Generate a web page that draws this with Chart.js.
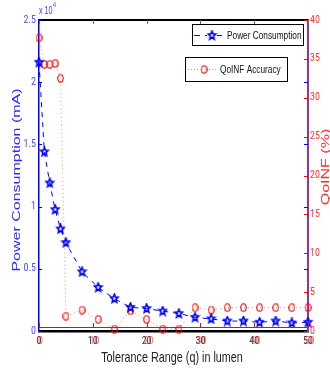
<!DOCTYPE html>
<html>
<head>
<meta charset="utf-8">
<script src="https://cdn.jsdelivr.net/npm/chart.js@4/dist/chart.umd.min.js"></script>
<style>
  body { margin: 0; background: #fff; }
  #wrap { width: 330px; height: 372px; }
</style>
</head>
<body>
<div id="wrap"><canvas id="chart-1" width="330" height="372"></canvas></div>
<script>
const tolerance = [0, 1, 2, 3, 4, 5, 8, 11, 14, 17, 20, 23, 26, 29, 32, 35, 38, 41, 44, 47, 50];
const power = [21600, 14400, 11900, 9760, 8200, 7100, 4760, 3500, 2600, 1900, 1800, 1600, 1400, 1100, 970, 800, 800, 700, 800, 650, 700];
const accuracy = [37.7, 34.3, 34.3, 34.4, 32.5, 1.9, 2.7, 1.5, 0.25, 2.6, 1.5, 0.25, 0.25, 3.0, 2.7, 3.0, 3.0, 3.0, 3.0, 3.0, 3.0];
const xTicks = [0, 10, 20, 30, 40, 50];

const TICKFONT = "'Roboto Condensed', 'Liberation Sans', sans-serif";
const FONT = "'Liberation Sans', Arial, sans-serif";
const SQUEEZE = 0.72; // the original figure is narrowed sideways

// markers drawn to small canvases
function makeStar(size, color) {
  const c = document.createElement("canvas");
  c.width = size; c.height = size;
  const g = c.getContext("2d");
  const cx = size / 2, cy = size / 2, R = size / 2 - 1, r = R * 0.45;
  g.beginPath();
  for (let i = 0; i < 10; i++) {
    const a = -Math.PI / 2 + i * Math.PI / 5;
    const rr = i % 2 ? r : R;
    g.lineTo(cx + rr * Math.cos(a) * 0.85, cy + rr * Math.sin(a));
  }
  g.closePath();
  g.strokeStyle = color;
  g.lineWidth = 1.6;
  g.stroke();
  return c;
}
function makeRing(w, h, color) {
  const c = document.createElement("canvas");
  c.width = w; c.height = h;
  const g = c.getContext("2d");
  g.beginPath();
  g.ellipse(w / 2, h / 2, w / 2 - 0.8, h / 2 - 0.8, 0, 0, Math.PI * 2);
  g.strokeStyle = color;
  g.lineWidth = 1.1;
  g.stroke();
  return c;
}
const star = makeStar(11, "#0000ff");
const ring = makeRing(7, 9, "#ff0000");

// squeezed text, optionally rotated (bottom to top)
function txt(ctx, s, x, y, size, color, align, rotated) {
  ctx.save();
  ctx.translate(x, y);
  if (rotated) { ctx.rotate(-Math.PI / 2); ctx.scale(1, SQUEEZE); }
  else ctx.scale(SQUEEZE, 1);
  ctx.font = size + "px " + FONT;
  ctx.fillStyle = color;
  ctx.textAlign = align;
  ctx.textBaseline = "middle";
  ctx.fillText(s, 0, 0);
  ctx.restore();
}

const extras = {
  id: "extras",
  afterDraw(chart) {
    const ctx = chart.ctx;
    const a = chart.chartArea;
    const xs = chart.scales.x, ys = chart.scales.y, y1 = chart.scales.y1;
    ctx.save();
    // top border
    ctx.strokeStyle = "#000";
    ctx.lineWidth = 2;
    ctx.beginPath(); ctx.moveTo(a.left, a.top); ctx.lineTo(a.right, a.top); ctx.stroke();
    ctx.lineWidth = 1;
    // red x axis of the second plot
    ctx.strokeStyle = "#ff0000";
    ctx.beginPath(); ctx.moveTo(a.left, a.bottom - 3.5); ctx.lineTo(a.right, a.bottom - 3.5); ctx.stroke();
    xTicks.forEach(t => {
      const px = Math.round(xs.getPixelForValue(t)) + 0.5;
      ctx.strokeStyle = "#666";
      ctx.beginPath(); ctx.moveTo(px, a.top); ctx.lineTo(px, a.top + 4); ctx.stroke();
      ctx.strokeStyle = "#f00";
      ctx.beginPath(); ctx.moveTo(px, a.bottom - 3); ctx.lineTo(px, a.bottom - 8); ctx.stroke();
      // red copy of the tick label
      ctx.fillStyle = "rgba(255,40,40,0.7)";
      ctx.font = "10px " + TICKFONT;
      ctx.textAlign = "center";
      ctx.textBaseline = "middle";
      ctx.fillText(String(t), px + 1, a.bottom + 10);
    });
    // inner ticks on both y axes
    ys.ticks.forEach(t => {
      const py = Math.round(ys.getPixelForValue(t.value)) + 0.5;
      ctx.strokeStyle = "#0000ff";
      ctx.beginPath(); ctx.moveTo(a.left, py); ctx.lineTo(a.left + 3, py); ctx.stroke();
      ctx.beginPath(); ctx.moveTo(a.right - 4, py); ctx.lineTo(a.right, py); ctx.stroke();
    });
    y1.ticks.forEach(t => {
      const py = Math.round(y1.getPixelForValue(t.value)) + 0.5;
      ctx.strokeStyle = "#ff0000";
      ctx.beginPath(); ctx.moveTo(a.right - 4, py); ctx.lineTo(a.right, py); ctx.stroke();
    });

    // axis titles
    txt(ctx, "Power Consumption (mA)", 17, 180, 16, "#2b2bff", "center", true);
    txt(ctx, "QoINF (%)", 326, 167, 16, "#ff2a2a", "center", true);
    txt(ctx, "Tolerance Range (q) in lumen", 172, 358, 15, "#222", "center", false);
    // x 10^4
    txt(ctx, "x 10", a.left, 11.5, 10, "#3a3aff", "left", false);
    txt(ctx, "4", a.left + 14, 5, 7.5, "#3a3aff", "left", false);

    // legend boxes
    ctx.lineWidth = 1;
    ctx.fillStyle = "#fff";
    ctx.strokeStyle = "#000";
    ctx.fillRect(192.5, 24.5, 111, 21); ctx.strokeRect(192.5, 24.5, 111, 21);
    ctx.fillRect(185.5, 57.5, 102, 24); ctx.strokeRect(185.5, 57.5, 102, 24);
    // power entry
    ctx.strokeStyle = "#0000ff";
    ctx.setLineDash([6, 5]);
    ctx.beginPath(); ctx.moveTo(194, 35.5); ctx.lineTo(225, 35.5); ctx.stroke();
    ctx.setLineDash([]);
    ctx.fillStyle = "#fff";
    ctx.fillRect(207, 30, 10, 11);
    ctx.drawImage(star, 212 - 5.5, 35.5 - 5.5);
    txt(ctx, "Power Consumption", 227, 35.5, 11.5, "#111", "left", false);
    // accuracy entry
    ctx.strokeStyle = "rgba(255,60,60,0.6)";
    ctx.setLineDash([1, 2]);
    ctx.beginPath(); ctx.moveTo(188, 69.5); ctx.lineTo(216, 69.5); ctx.stroke();
    ctx.setLineDash([]);
    ctx.fillStyle = "#fff";
    ctx.fillRect(201, 65, 7, 9);
    ctx.drawImage(ring, 204 - 3.5, 69.5 - 4.5);
    txt(ctx, "QoINF Accuracy", 220, 69.5, 11.5, "#111", "left", false);
    ctx.restore();
  }
};

const ctx1 = document.getElementById("chart-1").getContext("2d");
const myChart = new Chart(ctx1, {
  type: "line",
  data: {
    datasets: [
      {
        label: "Power Consumption",
        data: tolerance.map((t, i) => ({ x: t, y: power[i] })),
        yAxisID: "y",
        borderColor: "#0000ff",
        backgroundColor: "#0000ff",
        borderWidth: 1,
        borderDash: [5, 5],
        pointStyle: star,
        pointRadius: 5,
        clip: false,
      },
      {
        label: "QoINF Accuracy",
        data: tolerance.map((t, i) => ({ x: t, y: accuracy[i] })),
        yAxisID: "y1",
        borderColor: "rgba(255,40,40,0.55)",
        backgroundColor: "#ff0000",
        borderWidth: 1,
        borderDash: [1, 3],
        pointStyle: ring,
        pointRadius: 4,
        clip: false,
      },
    ],
  },
  options: {
    responsive: false,
    animation: false,
    layout: { padding: { top: 20, left: 0, right: 0, bottom: 0 } },
    plugins: { legend: { display: false }, tooltip: { enabled: false } },
    scales: {
      x: {
        type: "linear",
        min: 0, max: 50,
        afterBuildTicks: s => { s.ticks = xTicks.map(v => ({ value: v })); },
        afterFit: s => { s.height = 41; },
        grid: { display: false, drawTicks: false },
        border: { color: "#000", width: 2.5 },
        ticks: { color: "#333", font: { size: 10, family: TICKFONT }, padding: 4, maxRotation: 0 },
      },
      y: {
        position: "left",
        min: 0, max: 25000,
        afterFit: s => { s.width = 39; },
        grid: { display: false, drawTicks: false },
        border: { color: "#0000ff", width: 1.5 },
        ticks: { stepSize: 5000, color: "#4d4dff", font: { size: 10, family: TICKFONT }, padding: 3, callback: v => String(v / 10000) },
      },
      y1: {
        position: "right",
        min: 0, max: 40,
        afterFit: s => { s.width = 22; },
        grid: { display: false, drawTicks: false },
        border: { color: "#993399", width: 2 },
        ticks: { stepSize: 5, color: "#ff3333", font: { size: 10, family: TICKFONT }, padding: 2 },
      },
    },
  },
  plugins: [extras],
});
</script>
</body>
</html>
